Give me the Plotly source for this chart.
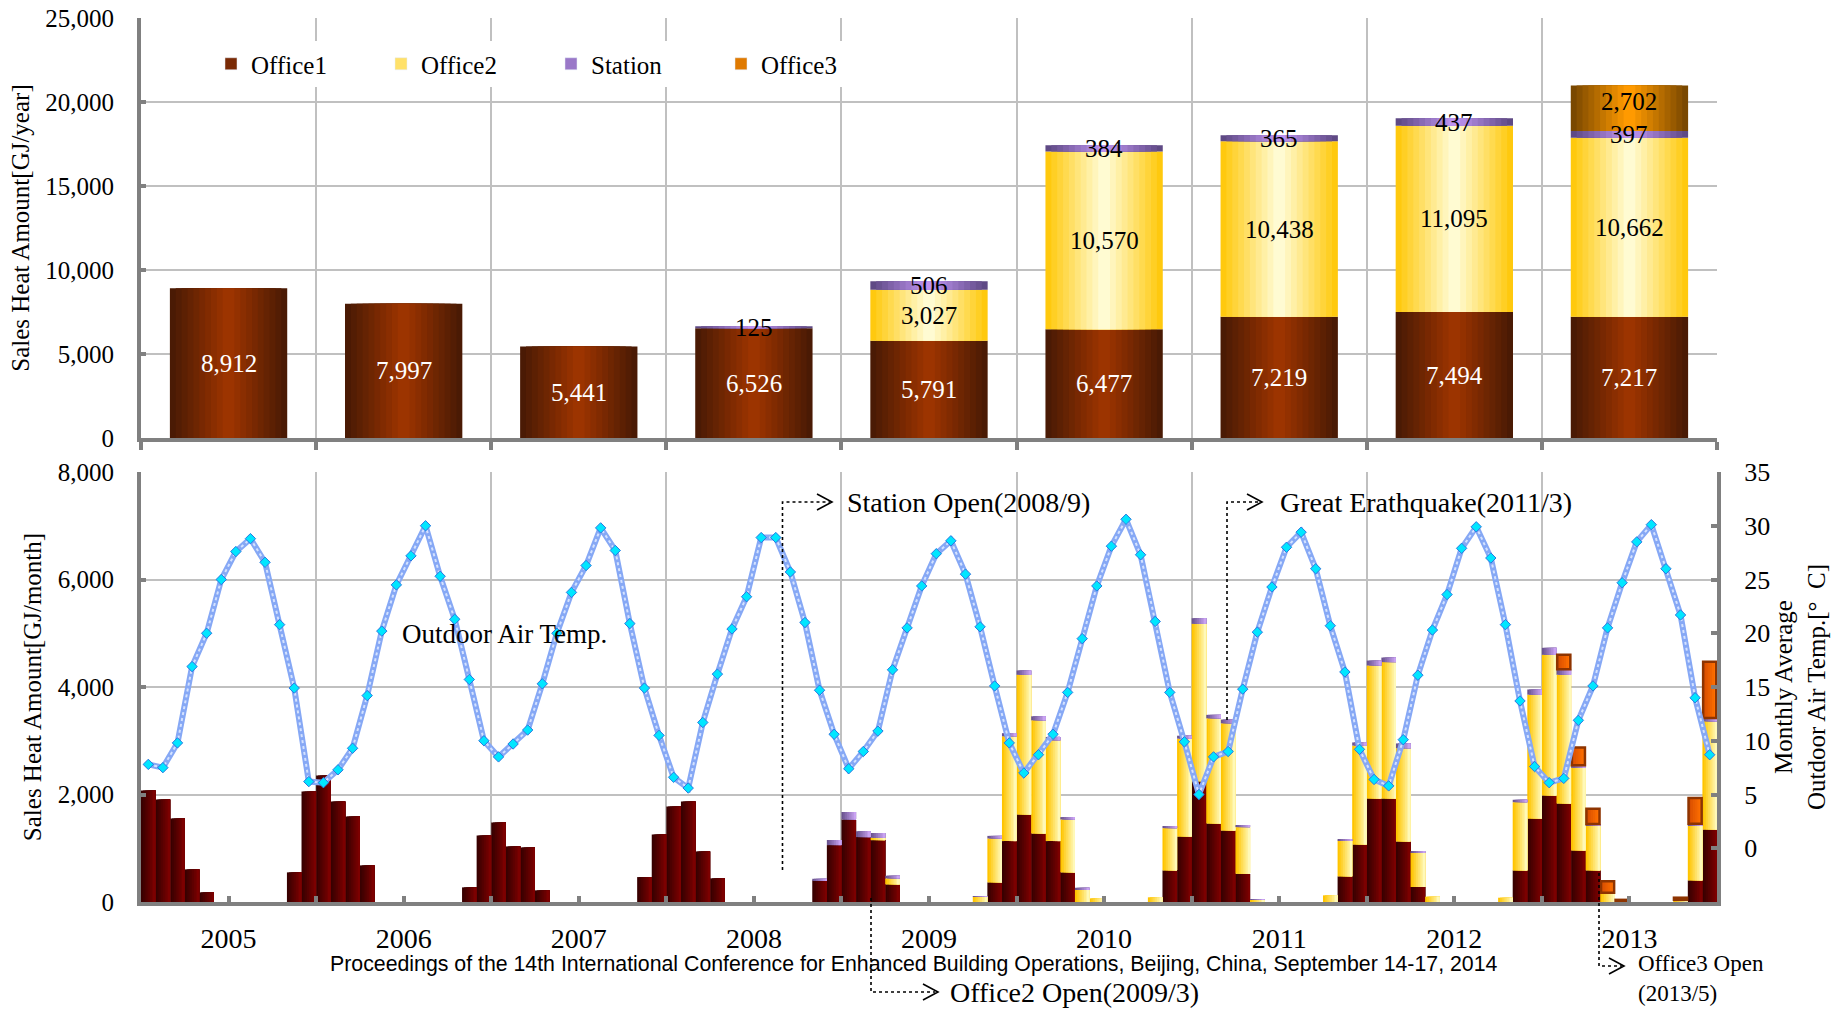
import numpy as np
import plotly.graph_objects as go

# ---------------- annual sales heat [GJ/year] ----------------
years = [2005, 2006, 2007, 2008, 2009, 2010, 2011, 2012, 2013]
office1_year = [8912, 7997, 5441, 6526, 5791, 6477, 7219, 7494, 7217]
office2_year = [0, 0, 0, 0, 3027, 10570, 10438, 11095, 10662]
station_year = [0, 0, 0, 125, 506, 384, 365, 437, 397]
office3_year = [0, 0, 0, 0, 0, 0, 0, 0, 2702]

# ---------------- monthly sales heat [GJ/month], Jan..Dec per row ----------------
office1_month = (
    [2074, 1907, 1554, 607, 180, 0, 0, 0, 0, 0, 551, 2055]      # 2005
    + [2352, 1869, 1591, 681, 0, 0, 0, 0, 0, 0, 272, 1238]      # 2006
    + [1479, 1034, 1015, 217, 0, 0, 0, 0, 0, 0, 464, 1257]      # 2007
    + [1777, 1869, 941, 440, 0, 0, 0, 0, 0, 0, 402, 1059]       # 2008
    + [1535, 1207, 1151, 328, 0, 0, 0, 0, 0, 0, 365, 1133]      # 2009
    + [1628, 1275, 1133, 551, 0, 0, 0, 0, 0, 0, 588, 1219]      # 2010
    + [2247, 1461, 1331, 526, 0, 0, 0, 0, 0, 0, 477, 1071]      # 2011
    + [1925, 1925, 1127, 279, 0, 0, 0, 0, 0, 0, 588, 1554]      # 2012
    + [1981, 1832, 960, 588, 0, 0, 0, 0, 0, 0, 402, 1349]       # 2013
)
office2_month = (
    [0] * 12 * 4                                                # 2005-2008
    + [0, 0, 43, 111, 0, 0, 0, 0, 0, 100, 817, 1950]            # 2009
    + [2600, 2105, 1876, 984, 235, 68, 0, 0, 0, 87, 786, 1820]  # 2010
    + [2928, 1956, 1993, 867, 40, 0, 0, 0, 0, 124, 669, 1838]   # 2011
    + [2476, 2538, 1733, 638, 99, 0, 0, 0, 0, 80, 1269, 2303]   # 2012
    + [2618, 2396, 1535, 842, 173, 0, 0, 0, 0, 40, 1021, 2012]  # 2013
)
station_month = (
    [0] * 12 * 3                                                # 2005-2007
    + [0, 0, 0, 0, 0, 0, 0, 0, 0, 0, 30, 95]                    # 2008
    + [140, 110, 90, 50, 0, 0, 0, 0, 0, 10, 48, 58]             # 2009
    + [80, 75, 62, 45, 30, 0, 0, 0, 0, 0, 40, 55]               # 2010
    + [105, 65, 70, 40, 10, 0, 0, 0, 0, 0, 15, 60]              # 2011
    + [90, 85, 90, 30, 0, 0, 0, 0, 0, 0, 45, 97]                # 2012
    + [130, 100, 50, 20, 0, 0, 0, 0, 0, 0, 35, 62]              # 2013
)
office3_month = (
    [0] * 12 * 8                                                # 2005-2012
    + [0, 270, 330, 285, 215, 40, 0, 0, 0, 40, 475, 1045]       # 2013
)
# monthly average outdoor air temperature [deg C]
temp_month = (
    [7.8, 7.5, 9.8, 16.9, 20.0, 25.0, 27.6, 28.8, 26.6, 20.8, 14.9, 6.2]
    + [6.1, 7.3, 9.3, 14.2, 20.2, 24.5, 27.2, 30.0, 25.3, 21.3, 15.7, 10.0]
    + [8.5, 9.7, 11.0, 15.3, 20.0, 23.8, 26.3, 29.8, 27.7, 20.9, 14.9, 10.5]
    + [6.6, 5.6, 11.7, 16.2, 20.4, 23.4, 28.9, 28.9, 25.7, 21.0, 14.7, 10.6]
    + [7.4, 9.0, 10.9, 16.6, 20.5, 24.4, 27.4, 28.6, 25.5, 20.6, 15.1, 9.8]
    + [7.0, 8.7, 10.6, 14.5, 19.5, 24.4, 28.1, 30.6, 27.3, 21.1, 14.5, 9.9]
    + [5.0, 8.5, 9.0, 14.8, 20.1, 24.3, 28.0, 29.4, 26.0, 20.7, 16.4, 9.2]
    + [6.4, 5.8, 10.1, 16.1, 20.3, 23.6, 27.9, 29.9, 27.0, 20.8, 13.7, 7.6]
    + [6.1, 6.5, 11.9, 15.1, 20.5, 24.7, 28.5, 30.1, 26.0, 21.7, 14.0, 8.7]
)
year_labels = [str(y) for y in years]

# month centres on a fractional-year axis
month_x = [2005 + (i + 0.5) / 12 for i in range(len(temp_month))]

# ---------------- helpers ----------------
def hex_rgb(h):
    h = h.lstrip("#")
    return tuple(int(h[i:i + 2], 16) for i in (0, 2, 4))


def lerp(c1, c2, t):
    a, b = hex_rgb(c1), hex_rgb(c2)
    return "rgb(%d,%d,%d)" % tuple(round(a[i] + (b[i] - a[i]) * t) for i in range(3))


def nz(vals):
    return [v if v else None for v in vals]


fig = go.Figure()

# plot-area geometry (pixels) used to place arrows and notes
W, H = 1845, 1009
L, R, T, B = 141, 128, 18, 107
PW, PH = W - L - R, H - T - B


def px(x):
    return (x - L) / PW


def py(y):
    return (H - B - y) / PH


def centered_gradient(x, y, base, edge, centre, width, n=10):
    """Stack of nested, centred bars giving a dark-edge / light-centre shade."""
    for k in range(n):
        fig.add_trace(go.Bar(
            x=x, y=nz(y), base=base, width=width * (n - k) / n,
            marker=dict(color=lerp(edge, centre, k / (n - 1)), line=dict(width=0)),
            xaxis="x", yaxis="y", showlegend=False, hoverinfo="skip"))


def left_right_gradient(x, y, base, left, right, width, n=8, xa="x2", ya="y2"):
    """Bars that shade from the left edge to the right edge."""
    for k in range(n):
        fig.add_trace(go.Bar(
            x=x, y=nz(y), base=base, width=width * (n - k) / n,
            offset=-width / 2 + width * k / n,
            marker=dict(color=lerp(left, right, k / (n - 1)), line=dict(width=0)),
            xaxis=xa, yaxis=ya, showlegend=False, hoverinfo="skip"))


# ---------------- annual stacked bars ----------------
o1y = np.array(office1_year)
o2y = np.array(office2_year)
sty = np.array(station_year)
o3y = np.array(office3_year)
bw = 0.67
centered_gradient(years, office1_year, [0] * 9, "#4A1A04", "#9C3400", bw)
centered_gradient(years, office2_year, o1y.tolist(), "#FFC90E", "#FFFBD2", bw)
centered_gradient(years, station_year, (o1y + o2y).tolist(), "#5F4A85", "#BE93F0", bw)
centered_gradient(years, office3_year, (o1y + o2y + sty).tolist(), "#7A4800", "#FF9A00", bw)

# legend entries
for name, col in [("Office1", "#7A2A05"), ("Office2", "#FFE16A"),
                  ("Station", "#9A78C8"), ("Office3", "#E07A00")]:
    fig.add_trace(go.Bar(x=[None], y=[None], name=name, marker=dict(color=col),
                         xaxis="x", yaxis="y", showlegend=True, hoverinfo="skip"))

# value labels on annual bars
annotations = []
for i, yr in enumerate(years):
    a, b, c, d = office1_year[i], office2_year[i], station_year[i], office3_year[i]
    if a:
        annotations.append(dict(x=yr, y=a / 2, text=f"{a:,}", font=dict(color="white")))
    if b:
        annotations.append(dict(x=yr, y=a + b / 2, text=f"{b:,}", font=dict(color="black")))
    if c:
        annotations.append(dict(x=yr, y=a + b + c / 2, text=f"{c:,}", font=dict(color="black")))
    if d:
        annotations.append(dict(x=yr, y=a + b + c + d, yanchor="top", text=f"{d:,}",
                                font=dict(color="black")))
for an in annotations:
    an.update(xref="x", yref="y", showarrow=False)
    an["font"].update(size=25, family="Liberation Serif")

# ---------------- monthly stacked bars ----------------
o1m = np.array(office1_month)
o2m = np.array(office2_month)
stm = np.array(station_month)
o3m = np.array(office3_month)
mw = 1 / 12
left_right_gradient(month_x, office1_month, [0] * len(month_x), "#380000", "#7C0000", mw)
left_right_gradient(month_x, office2_month, o1m.tolist(), "#FFC400", "#FFF9B8", mw)
left_right_gradient(month_x, station_month, (o1m + o2m).tolist(), "#6B5490", "#C9A2F2", mw)
o3base = (o1m + o2m + stm).tolist()
left_right_gradient(month_x, office3_month, o3base, "#D84E00", "#FF7000", mw * 0.9, n=6)
fig.add_trace(go.Bar(
    x=month_x, y=nz(office3_month), base=o3base, width=mw * 0.9,
    marker=dict(color="rgba(0,0,0,0)", line=dict(color="#8E3400", width=2.5)),
    xaxis="x2", yaxis="y2", showlegend=False, hoverinfo="skip"))

# ---------------- outdoor air temperature ----------------
fig.add_trace(go.Scatter(
    x=month_x, y=temp_month, mode="lines", xaxis="x2", yaxis="y3",
    line=dict(color="#86A8F5", width=6), showlegend=False, hoverinfo="skip"))
fig.add_trace(go.Scatter(
    x=month_x, y=temp_month, mode="lines+markers", xaxis="x2", yaxis="y3",
    line=dict(color="#D4E2FF", width=2, dash="dot"),
    marker=dict(symbol="diamond", size=8, color="#00E6FF", line=dict(color="#2A78E0", width=1)),
    showlegend=False, hoverinfo="skip"))

# ---------------- event arrows ----------------
shapes = []


def arrow(path_pts, tip):
    xs = [p[0] for p in path_pts]
    ys = [p[1] for p in path_pts]
    d = "M " + " L ".join(f"{px(x):.5f},{py(y):.5f}" for x, y in zip(xs, ys))
    shapes.append(dict(type="path", path=d, xref="paper", yref="paper",
                       line=dict(color="black", width=1.6, dash="dot")))
    tx, ty = tip
    chev = (f"M {px(tx - 15):.5f},{py(ty - 8):.5f} L {px(tx):.5f},{py(ty):.5f} "
            f"L {px(tx - 15):.5f},{py(ty + 8):.5f}")
    shapes.append(dict(type="path", path=chev, xref="paper", yref="paper",
                       line=dict(color="black", width=1.6)))


arrow([(782.5, 870), (782.5, 502), (830, 502)], (832, 502))
arrow([(871, 898), (871, 992), (935, 992)], (938, 992))
arrow([(1227, 720), (1227, 502), (1260, 502)], (1262, 502))
arrow([(1599, 873), (1599, 966), (1622, 966)], (1624, 966))

notes = [
    ("Station Open(2008/9)", 845, 502, 28),
    ("Office2 Open(2009/3)", 948, 992, 28),
    ("Great Erathquake(2011/3)", 1278, 502, 28),
    ("Outdoor Air Temp.", 400, 634, 27),
]
for text, x, y, size in notes:
    annotations.append(dict(text=text, x=px(x), y=py(y), xref="paper", yref="paper",
                            xanchor="left", yanchor="middle", showarrow=False,
                            font=dict(size=size, family="Liberation Serif", color="black")))
annotations.append(dict(text="Office3 Open<br>(2013/5)", x=px(1636), y=py(1008),
                        xref="paper", yref="paper", xanchor="left", yanchor="bottom",
                        align="left", showarrow=False,
                        font=dict(size=23, family="Liberation Serif", color="black")))
annotations.append(dict(
    text="Proceedings of the 14th International Conference for Enhanced Building Operations, "
         "Beijing, China, September 14-17, 2014",
    x=px(328), y=py(964), xref="paper", yref="paper", xanchor="left", yanchor="middle",
    showarrow=False, font=dict(size=21.3, family="Liberation Sans", color="black")))

# ---------------- layout ----------------
grid = "#C0C0C0"
axc = "#808080"
top_dom = [py(438), 1.0]
bot_dom = [0.0, py(472)]
tickfont = dict(size=25, family="Liberation Serif", color="black")

fig.update_layout(
    width=W, height=H,
    margin=dict(l=L, r=R, t=T, b=B, pad=0, autoexpand=False),
    paper_bgcolor="white", plot_bgcolor="white",
    font=dict(family="Liberation Serif", color="black"),
    barmode="overlay",
    showlegend=True,
    legend=dict(orientation="h", x=px(211), y=py(64), xanchor="left", yanchor="middle",
                bgcolor="white", font=dict(size=25, family="Liberation Serif"),
                entrywidth=125, entrywidthmode="pixels", itemwidth=30,
                traceorder="normal"),
    xaxis=dict(domain=[0, 1], anchor="y", range=[2004.5, 2013.5], automargin=False,
               tickmode="array", tickvals=[y - 0.5 for y in years] + [years[-1] + 0.5],
               showticklabels=False, ticks="outside", ticklen=8, tickwidth=4, tickcolor=axc,
               showgrid=True, gridcolor=grid, gridwidth=1.5,
               showline=True, linecolor=axc, linewidth=4, zeroline=False),
    yaxis=dict(domain=top_dom, anchor="x", range=[0, 25000], automargin=False,
               tickmode="array", tickvals=[0, 5000, 10000, 15000, 20000, 25000],
               tickformat=",", tickfont=tickfont, ticks="inside", ticklen=5, tickwidth=4,
               tickcolor=axc, ticklabelstandoff=18,
               showgrid=True, gridcolor=grid, gridwidth=1.5,
               showline=True, linecolor=axc, linewidth=4, zeroline=False,
               title=dict(text="Sales Heat Amount[GJ/year]", standoff=10,
                          font=dict(size=25, family="Liberation Serif"))),
    xaxis2=dict(domain=[0, 1], anchor="y2", range=[2005, 2014], automargin=False,
                tickmode="array", tickvals=[y + 0.5 for y in years], ticktext=year_labels,
                tickfont=dict(size=28, family="Liberation Serif", color="black"),
                ticks="inside", ticklen=6, tickwidth=4, tickcolor=axc, ticklabelstandoff=8,
                showgrid=False,
                minor=dict(tickmode="array", tickvals=years + [years[-1] + 1],
                           ticks="inside", ticklen=6, tickwidth=4, tickcolor=axc,
                           showgrid=True, gridcolor=grid, gridwidth=1.5),
                showline=True, linecolor=axc, linewidth=4, zeroline=False),
    yaxis2=dict(domain=bot_dom, anchor="x2", range=[0, 8000], automargin=False,
                tickmode="array", tickvals=[0, 2000, 4000, 6000, 8000],
                tickformat=",", tickfont=tickfont, ticks="inside", ticklen=5, tickwidth=4,
                tickcolor=axc, ticklabelstandoff=18,
                showgrid=True, gridcolor=grid, gridwidth=1.5,
                showline=True, linecolor=axc, linewidth=4, zeroline=False,
                title=dict(text="Sales Heat Amount[GJ/month]", standoff=10,
                           font=dict(size=25, family="Liberation Serif"))),
    yaxis3=dict(overlaying="y2", anchor="x2", side="right", range=[-5, 35], automargin=False,
                tickmode="array", tickvals=[0, 5, 10, 15, 20, 25, 30, 35],
                tickfont=dict(size=26, family="Liberation Serif", color="black"),
                ticks="inside", ticklen=6, tickwidth=4, tickcolor=axc, ticklabelstandoff=18,
                showgrid=False, showline=True, linecolor=axc, linewidth=4, zeroline=False,
                title=dict(text="Monthly Average<br>Outdoor Air Temp.[°  C]", standoff=6,
                           font=dict(size=25, family="Liberation Serif"))),
    annotations=annotations,
    shapes=shapes,
)

fig.write_html("out.html")
